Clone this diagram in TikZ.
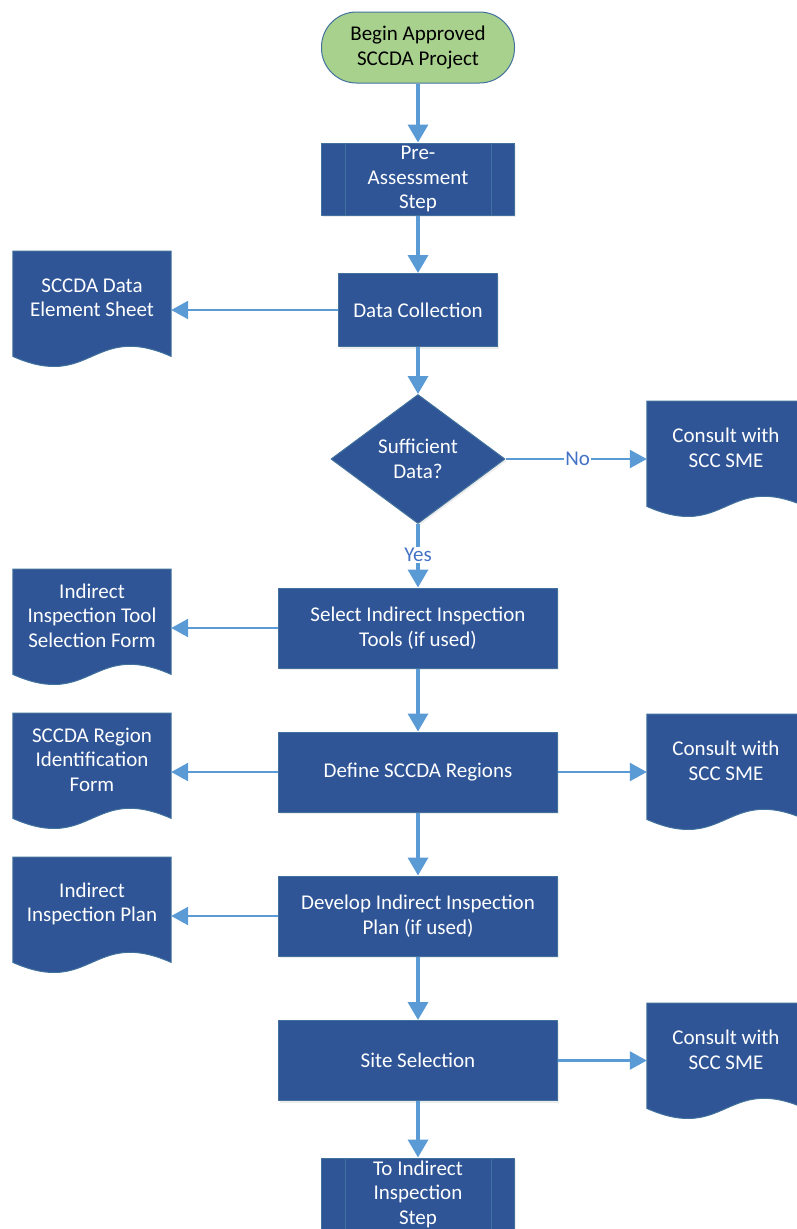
\documentclass[tikz,border=0pt]{standalone}
\usepackage{fontspec}
\setmainfont{Carlito}
\usepackage{tikz}
\usetikzlibrary{arrows.meta,calc,shapes.geometric,shadows,backgrounds}
\definecolor{boxc}{RGB}{47,85,151}
\definecolor{edgec}{RGB}{65,113,156}
\definecolor{arrc}{RGB}{91,155,213}
\definecolor{termc}{RGB}{169,209,142}
\definecolor{lblc}{RGB}{68,114,196}

\begin{document}
\begin{tikzpicture}[x=1pt,y=-1pt,line join=round,
  every node/.style={font=\fontsize{21}{24.5}\selectfont,align=center},
  shade/.style={drop shadow={opacity=0.15,shadow xshift=1.5pt,shadow yshift=-2pt}},
  term/.style={rectangle,rounded corners=35pt,draw=edgec,fill=termc,line width=1pt,minimum width=193pt,minimum height=71pt,inner sep=0pt},
  proc/.style={rectangle,draw=edgec,fill=boxc,text=white,line width=1pt,inner sep=0pt,shade},
  wide/.style={proc,minimum width=279pt,minimum height=80pt},
  predef/.style={proc,minimum width=193pt,minimum height=72pt},
  decision/.style={diamond,draw=edgec,fill=boxc,text=white,line width=1pt,minimum width=174pt,minimum height=129pt,inner sep=0pt,shade},
  docnode/.style={rectangle,inner sep=0pt,text=white,minimum width=158pt,minimum height=93pt},
  flow/.style={arrc,line width=3.5pt,-{Triangle[length=18pt,width=20pt]}},
  side/.style={arrc,line width=2.5pt,-{Triangle[length=17pt,width=18pt]}},
  lbl/.style={fill=white,text=lblc,inner sep=1pt}]
  \useasboundingbox (0,0) rectangle (796,1229);

  % main column
  \node[term] (start) at (418,47.5) {Begin Approved\\SCCDA Project};
  \node[predef] (pre) at (418,179) {Pre-\\Assessment\\Step};
  \node[proc,minimum width=159pt,minimum height=73pt] (data) at (418,310) {Data Collection};
  \node[decision] (suff) at (418,459) {Sufficient\\Data?};
  \node[wide] (select) at (418,628) {Select Indirect Inspection\\Tools (if used)};
  \node[wide] (regions) at (418,772) {Define SCCDA Regions};
  \node[wide] (plan) at (418,916) {Develop Indirect Inspection\\Plan (if used)};
  \node[wide] (site) at (418,1060.5) {Site Selection};
  \node[predef] (next) at (418,1194) {To Indirect\\Inspection\\Step};

  % documents
  \node[docnode,anchor=north] (sheet) at (92,251) {SCCDA Data\\Element Sheet};
  \node[docnode,anchor=north] (toolform) at (92,569) {Indirect\\Inspection Tool\\Selection Form};
  \node[docnode,anchor=north] (regform) at (92,713) {SCCDA Region\\Identification\\Form};
  \node[docnode,anchor=north] (plandoc) at (92,857) {Indirect\\Inspection Plan};
  \node[docnode,anchor=north] (sme1) at (726,401) {Consult with\\SCC SME};
  \node[docnode,anchor=north] (sme2) at (726,714) {Consult with\\SCC SME};
  \node[docnode,anchor=north] (sme3) at (726,1003) {Consult with\\SCC SME};

  \begin{scope}[on background layer]
    \foreach \d in {sheet,toolform,regform,plandoc,sme1,sme2,sme3}
      \draw[draw=edgec,fill=boxc,line width=1pt] (\d.north west) -- (\d.north east) -- ($(\d.south east)+(0,12)$)
        .. controls ($(\d.south)+(0,-23)$) and ($(\d.south)+(0,47)$) .. ($(\d.south west)+(0,12)$) -- cycle;
  \end{scope}
  \foreach \n in {pre,next}
    \draw[edgec,line width=1pt] ($(\n.north west)+(24,0)$) -- ($(\n.south west)+(24,0)$)
      ($(\n.north east)+(-24,0)$) -- ($(\n.south east)+(-24,0)$);

  % connectors
  \draw[flow] (start) -- (pre);
  \draw[flow] (pre) -- (data);
  \draw[flow] (data) -- (suff);
  \draw[flow] (suff) -- node[lbl,pos=0.49] {Yes} (select);
  \draw[flow] (select) -- (regions);
  \draw[flow] (regions) -- (plan);
  \draw[flow] (plan) -- (site);
  \draw[flow] (site) -- (next);
  \draw[side] (data) -- (data -| sheet.east);
  \draw[side] (suff) -- node[lbl,pos=0.51] {No} (suff -| sme1.west);
  \draw[side] (select) -- (select -| toolform.east);
  \draw[side] (regions) -- (regions -| regform.east);
  \draw[side] (regions) -- (regions -| sme2.west);
  \draw[side] (plan) -- (plan -| plandoc.east);
  \draw[side] (site) -- (site -| sme3.west);
\end{tikzpicture}
\end{document}
